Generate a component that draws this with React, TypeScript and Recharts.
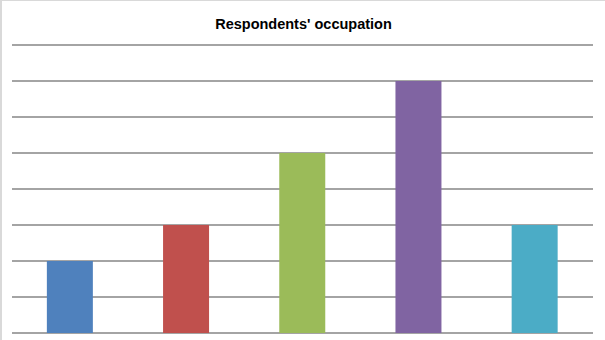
import React from "react";
import { BarChart, Bar, XAxis, YAxis, CartesianGrid, Cell } from "recharts";

const categories = ["Occupation 1", "Occupation 2", "Occupation 3", "Occupation 4", "Occupation 5"];
const counts = [2, 3, 5, 7, 3];
const colors = ["#4F81BD", "#C0504D", "#9BBB59", "#8064A2", "#4BACC6"];
const yTicks = [0, 1, 2, 3, 4, 5, 6, 7, 8];
const title = "Respondents' occupation";

const data = categories.map((c, i) => ({ name: c, value: counts[i] }));

export default function App() {
  return (
    <div
      style={{
        position: "absolute",
        left: 0,
        top: 0,
        width: 605,
        height: 340,
        background: "#fff",
        boxSizing: "border-box",
        borderLeft: "2px solid #d9d9d9",
        borderTop: "1px solid #d9d9d9",
        fontFamily: "'Liberation Sans', Arial, sans-serif",
      }}
    >
      <div
        style={{
          position: "absolute",
          left: 0,
          top: 15,
          width: 603,
          textAlign: "center",
          fontWeight: "bold",
          fontSize: 14.5,
          color: "#000",
        }}
      >
        {title}
      </div>
      <div style={{ position: "absolute", left: -2, top: -1 }}>
        <BarChart
          width={605}
          height={340}
          data={data}
          margin={{ top: 45, right: 12, bottom: 7, left: 12 }}
          barCategoryGap="30%"
        >
          <CartesianGrid vertical={false} stroke="#868686" strokeWidth={1.3} />
          <XAxis dataKey="name" hide />
          <YAxis hide domain={[0, 8]} ticks={yTicks} />
          <Bar dataKey="value" isAnimationActive={false}>
            {data.map((d, i) => (
              <Cell key={d.name} fill={colors[i]} />
            ))}
          </Bar>
        </BarChart>
      </div>
    </div>
  );
}
